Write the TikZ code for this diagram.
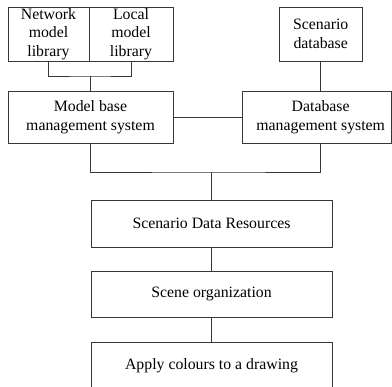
\documentclass[tikz,border=0pt]{standalone}
\usepackage{fontspec}
\setmainfont{Liberation Serif}
\definecolor{linegray}{RGB}{55,55,55}
\begin{document}
\begin{tikzpicture}[x=1pt,y=-1pt,
  box/.style={draw=linegray, line width=0.9pt, rectangle, inner sep=0pt,
    align=center, font=\fontsize{15.8}{18.5}\selectfont},
  txt/.style={inner sep=0pt, align=center, font=\fontsize{15.8}{18.5}\selectfont},
  link/.style={draw=linegray, line width=0.9pt}]
\useasboundingbox (0,0) rectangle (392,387);
\clip (0,0) rectangle (392,387);

% model libraries and scenario database
\node[box, minimum width=81pt, minimum height=54pt] (net) at (48.5,34) {Network\\model\\library};
\node[box, minimum width=84pt, minimum height=54pt] (loc) at (131,34) {Local\\model\\library};
\node[box, minimum width=83pt, minimum height=54pt] (sdb) at (320.7,34) {Scenario\\database};

% management systems
\node[box, minimum width=165pt, minimum height=52pt] (mbm) at (90.5,117) {Model base\\management system};
\node[box, minimum width=149pt, minimum height=52pt] (dbm) at (316.5,117) {};
\node[txt] (dbmtext) at (320.7,117) {Database\\management system};

% processing chain
\node[box, minimum width=241pt, minimum height=47pt] (sdr) at (211.5,223.5) {Scenario Data Resources};
\node[box, minimum width=241pt, minimum height=46pt] (org) at (211.5,294) {Scene organization};
\node[box, minimum width=241pt, minimum height=47pt] (app) at (211.5,365.5) {Apply colours to a drawing};

% junction points
\coordinate (libjoin) at (90.5,76);
\coordinate (sysjoin) at (211.5,172);

% connectors
\draw[link] (net.south) |- (libjoin) -| (loc.south);
\draw[link] (libjoin) -- (mbm.north);
\draw[link] (sdb.south) -- (sdb.south |- dbm.north);
\draw[link] (mbm.east) -- (dbm.west);
\draw[link] (mbm.south) |- (sysjoin) -| (sdb.south |- dbm.south);
\draw[link] (sysjoin) -- (sdr.north);
\draw[link] (sdr.south) -- (org.north);
\draw[link] (org.south) -- (app.north);
\end{tikzpicture}
\end{document}
